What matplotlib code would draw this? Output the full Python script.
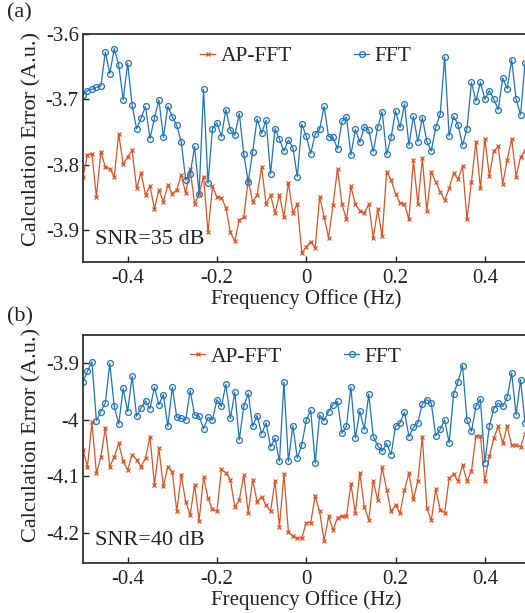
import numpy as np
import matplotlib
matplotlib.use("Agg")
import matplotlib.pyplot as plt

plt.rcParams['font.family'] = ['Liberation Serif', 'DejaVu Serif']
plt.rcParams['mathtext.fontset'] = 'stix'

freq = np.round(np.linspace(-0.5, 0.5, 101), 3)

fft_35 = [-3.694, -3.687, -3.685, -3.682, -3.680, -3.628, -3.661, -3.623, -3.648, -3.701,
          -3.645, -3.709, -3.745, -3.729, -3.711, -3.760, -3.729, -3.701, -3.758, -3.711,
          -3.727, -3.740, -3.765, -3.823, -3.814, -3.772, -3.844, -3.685, -3.828, -3.745,
          -3.736, -3.757, -3.716, -3.747, -3.755, -3.722, -3.783, -3.826, -3.780, -3.730,
          -3.752, -3.732, -3.814, -3.745, -3.761, -3.779, -3.762, -3.774, -3.818, -3.738,
          -3.756, -3.783, -3.753, -3.746, -3.711, -3.757, -3.758, -3.776, -3.734, -3.727,
          -3.785, -3.746, -3.766, -3.742, -3.747, -3.780, -3.743, -3.719, -3.784, -3.758,
          -3.718, -3.743, -3.707, -3.770, -3.726, -3.765, -3.728, -3.764, -3.779, -3.743,
          -3.723, -3.636, -3.756, -3.726, -3.739, -3.770, -3.745, -3.674, -3.703, -3.674,
          -3.700, -3.687, -3.700, -3.716, -3.668, -3.684, -3.640, -3.700, -3.724, -3.645,
          -3.700]

apfft_35 = [-3.818, -3.785, -3.783, -3.849, -3.780, -3.803, -3.806, -3.818, -3.753, -3.799,
            -3.788, -3.778, -3.836, -3.812, -3.846, -3.832, -3.867, -3.838, -3.856, -3.831,
            -3.844, -3.838, -3.816, -3.843, -3.806, -3.860, -3.844, -3.818, -3.903, -3.833,
            -3.849, -3.850, -3.865, -3.903, -3.916, -3.884, -3.880, -3.823, -3.856, -3.846,
            -3.803, -3.860, -3.846, -3.873, -3.846, -3.880, -3.827, -3.873, -3.860, -3.934,
            -3.925, -3.917, -3.926, -3.849, -3.879, -3.911, -3.861, -3.806, -3.860, -3.883,
            -3.833, -3.860, -3.870, -3.873, -3.860, -3.911, -3.868, -3.909, -3.811, -3.823,
            -3.844, -3.858, -3.860, -3.883, -3.793, -3.860, -3.790, -3.871, -3.811, -3.826,
            -3.841, -3.854, -3.836, -3.813, -3.822, -3.802, -3.883, -3.826, -3.765, -3.836,
            -3.760, -3.817, -3.779, -3.772, -3.829, -3.793, -3.760, -3.818, -3.788, -3.779,
            -3.770]

fft_40 = [-3.933, -3.915, -3.898, -4.002, -3.986, -3.971, -3.901, -3.977, -4.008, -3.945,
          -3.986, -3.924, -3.994, -3.980, -3.967, -3.981, -3.943, -3.974, -3.956, -4.012,
          -3.943, -3.996, -3.998, -4.001, -3.949, -3.992, -3.994, -4.016, -3.996, -4.001,
          -3.965, -3.977, -3.938, -3.998, -3.952, -4.036, -3.977, -3.954, -4.012, -3.993,
          -4.025, -4.006, -4.048, -4.033, -4.074, -3.934, -4.074, -4.011, -4.068, -4.045,
          -4.001, -3.984, -4.077, -3.992, -4.002, -3.986, -3.974, -3.968, -4.024, -4.012,
          -3.943, -4.033, -3.985, -4.018, -3.955, -4.030, -4.046, -4.056, -4.042, -4.062,
          -4.012, -4.006, -3.987, -4.030, -4.014, -4.006, -3.972, -3.965, -3.971, -4.029,
          -4.017, -4.001, -4.041, -3.955, -3.933, -3.905, -4.001, -4.021, -3.977, -3.964,
          -4.076, -4.012, -3.981, -3.971, -3.977, -3.961, -3.918, -3.992, -3.930, -4.006,
          -3.960]

apfft_40 = [-4.054, -4.083, -4.005, -4.095, -4.066, -4.015, -4.083, -4.066, -4.042, -4.074,
            -4.089, -4.062, -4.071, -4.083, -4.068, -4.030, -4.115, -4.051, -4.118, -4.083,
            -4.092, -4.162, -4.098, -4.145, -4.168, -4.115, -4.179, -4.101, -4.139, -4.158,
            -4.162, -4.088, -4.094, -4.106, -4.154, -4.142, -4.098, -4.164, -4.106, -4.145,
            -4.136, -4.151, -4.162, -4.109, -4.189, -4.096, -4.198, -4.206, -4.209, -4.209,
            -4.182, -4.182, -4.135, -4.162, -4.214, -4.171, -4.195, -4.173, -4.170, -4.171,
            -4.114, -4.165, -4.094, -4.154, -4.177, -4.108, -4.142, -4.084, -4.124, -4.162,
            -4.151, -4.165, -4.124, -4.095, -4.141, -4.108, -4.030, -4.156, -4.178, -4.123,
            -4.159, -4.164, -4.104, -4.096, -4.109, -4.080, -4.109, -4.091, -4.029, -4.029,
            -4.109, -4.065, -4.033, -4.012, -4.042, -4.012, -4.045, -4.045, -4.048, -4.025,
            -4.030]

xticks = [-0.4, -0.2, 0, 0.2, 0.4]
xticklabels = ['-0.4', '-0.2', '0', '0.2', '0.4']
yticks_a = [-3.9, -3.8, -3.7, -3.6]
yticklabels_a = ['-3.9', '-3.8', '-3.7', '-3.6']
yticks_b = [-4.2, -4.1, -4.0, -3.9]
yticklabels_b = ['-4.2', '-4.1', '-4', '-3.9']

BLUE = '#1f74bb'
ORANGE = '#d95526'
TXT = '#222222'

W, H = 525, 613
fig = plt.figure(figsize=(W / 100, H / 100), dpi=100)

def make_axes(top_px, bottom_px):
    left_px, right_px = 83, 529.5
    return fig.add_axes([left_px / W, 1 - bottom_px / H,
                         (right_px - left_px) / W, (bottom_px - top_px) / H])

panels = [
    dict(ax=make_axes(33.5, 262), fft=fft_35, ap=apfft_35, ylim=(-3.948, -3.6),
         yt=yticks_a, ytl=yticklabels_a, snr='SNR=35 dB', tag='(a)', tagy=3,
         leg=(0.262, 0.900), ylab_y=0.54),
    dict(ax=make_axes(335, 563), fft=fft_40, ap=apfft_40, ylim=(-4.253, -3.851),
         yt=yticks_b, ytl=yticklabels_b, snr='SNR=40 dB', tag='(b)', tagy=307,
         leg=(0.240, 0.905), ylab_y=0.56),
]

for p in panels:
    ax = p['ax']
    ax.plot(freq, p['ap'], color=ORANGE, lw=0.9, marker='x', ms=3.2, mew=0.9,
            label='AP-FFT')
    ax.plot(freq, p['fft'], color=BLUE, lw=0.9, marker='o', ms=4.2, mew=0.9,
            mfc='none', label='FFT')
    ax.set_xlim(-0.5, 0.5)
    ax.set_ylim(*p['ylim'])
    ax.set_xticks(xticks)
    ax.set_xticklabels(xticklabels)
    ax.set_yticks(p['yt'])
    ax.set_yticklabels(p['ytl'])
    ax.tick_params(direction='in', length=4, width=1.0, labelsize=15,
                   colors='#222222', labelcolor=TXT)
    ax.tick_params(axis='x', pad=5)
    ax.tick_params(axis='y', pad=3)
    for s in ax.spines.values():
        s.set_linewidth(1.3)
        s.set_color('#333333')
    ax.set_xlabel('Frequency Office (Hz)', fontsize=15, labelpad=1, color=TXT)
    ax.set_ylabel('Calculation Error (A.u.)', fontsize=16, color=TXT)
    ax.yaxis.set_label_coords(-0.092, p['ylab_y'])
    ax.text(0.027, 0.079, p['snr'], transform=ax.transAxes, fontsize=16,
            ha='left', va='baseline', color=TXT)
    leg = ax.legend(loc='center left', bbox_to_anchor=p['leg'], ncol=2, frameon=False,
                    fontsize=15.5, handlelength=0.7, handletextpad=0.25,
                    columnspacing=2.9, borderpad=0, borderaxespad=0)
    for t in leg.get_texts():
        t.set_color(TXT)
    fig.text(7 / W, 1 - p['tagy'] / H, p['tag'], fontsize=16, ha='left', va='top',
             color=TXT)

fig.savefig('out.png', dpi=100)
